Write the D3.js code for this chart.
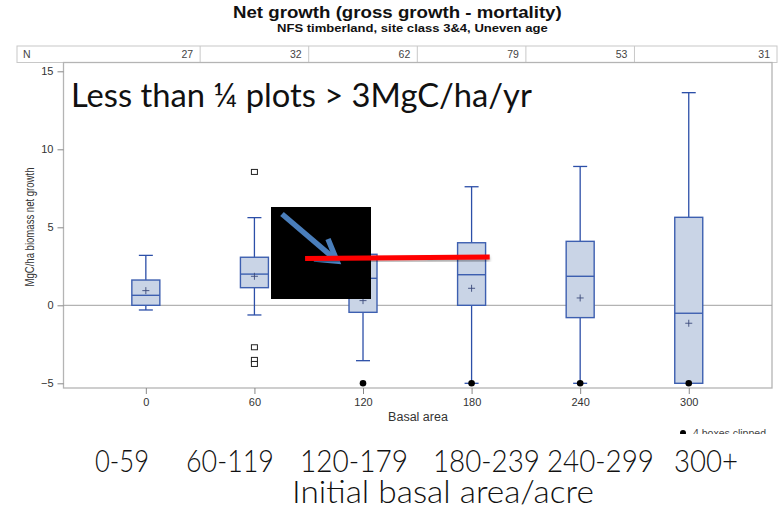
<!DOCTYPE html>
<html>
<head>
<meta charset="utf-8">
<script src="https://cdn.jsdelivr.net/npm/d3@7"></script>
<style>
  body { margin: 0; background: #fff; }
  svg { display: block; }
  .sas { font-family: "Liberation Sans", Arial, sans-serif; }
  .narrow { font-family: "Liberation Sans Narrow", "Liberation Sans", Arial, sans-serif; }
  .slide { font-family: Lato, "Open Sans", sans-serif; }
</style>
</head>
<body>
<div id="chart"></div>
<script>
(() => {

// basal area classes (x positions) and counts for the N table
const cats = [0, 60, 120, 180, 240, 300]
const nObs = [27, 32, 62, 79, 53, 31]

// box plot stats (MgC/ha)
const whiskLo = [-0.3, -0.62, -3.55, -5, -5, -5]
const q1 = [0, 1.13, -0.45, 0, -0.79, -5]
const med = [0.64, 2.0, 1.73, 1.96, 1.86, -0.51]
const q3 = [1.62, 3.08, 3.27, 4.01, 4.1, 5.64]
const whiskHi = [3.2, 5.62, 6.0, 7.6, 8.9, 13.63]
const means = [0.94, 1.86, 0.3, 1.09, 0.47, -1.15]

// outliers (open squares) and clipped markers (filled dots at -5)
const outCat = [60, 60, 60, 60]
const outVal = [8.55, -2.69, -3.5, -3.76]
const clipCat = [120, 180, 240, 300]

const yTicks = [-5, 0, 5, 10, 15]
const slideLabels = ["0-59", "60-119", "120-179", "180-239", "240-299", "300+"]
const slideLabelX = [95, 186, 300, 433, 547, 674]
const slideLabelW = [54, 88, 108, 107, 107, 64]

const W = 783, H = 511
const svg = d3.select("#chart").append("svg")
    .attr("width", W).attr("height", H)

const x = d3.scaleLinear().domain([-45.5, 346]).range([63.5, 772])
const y = d3.scaleLinear().domain([-5, 15]).range([383.3, 71.3])
const plotTop = 62.5, plotBot = 388, plotL = 63.5, plotR = 772

// squeeze a text horizontally so it spans w pixels
function fitText(sel, x0, y0, w) {
    sel.each(function(d, i) {
        const t = d3.select(this)
        const nat = this.getComputedTextLength()
        const xx = typeof x0 === "function" ? x0(d, i) : x0
        const ww = typeof w === "function" ? w(d, i) : w
        t.attr("transform", `translate(${xx},${y0}) scale(${ww / nat},1)`)
    })
}

// titles
svg.append("text").attr("class", "sas")
    .attr("font-size", 16.5).attr("font-weight", "bold").attr("fill", "#111")
    .text("Net growth (gross growth - mortality)")
    .call(fitText, 233, 18, 329)
svg.append("text").attr("class", "sas")
    .attr("font-size", 11.5).attr("font-weight", "bold").attr("fill", "#111")
    .text("NFS timberland, site class 3&4, Uneven age")
    .call(fitText, 277, 32, 271)

// N table
const tbl = svg.append("g").attr("class", "sas")
tbl.append("rect").attr("x", 17).attr("y", 46).attr("width", 760).attr("height", plotTop - 46)
    .attr("fill", "#fff").attr("stroke", "#c8c8c8")
const bounds = cats.map((c, i) => i < cats.length - 1 ? x((c + cats[i + 1]) / 2) : 777)
bounds.slice(0, -1).forEach(b => {
    tbl.append("line").attr("x1", b).attr("x2", b).attr("y1", 46).attr("y2", plotTop)
        .attr("stroke", "#c8c8c8")
})
tbl.append("text").attr("x", 23).attr("y", 58).attr("font-size", 10.5).attr("fill", "#444").text("N")
tbl.selectAll(".nval").data(nObs).enter().append("text")
    .attr("x", (d, i) => bounds[i] - 7).attr("y", 58)
    .attr("text-anchor", "end").attr("font-size", 10.5).attr("fill", "#444")
    .text(d => d)

// plot frame
svg.append("rect").attr("x", plotL).attr("y", plotTop)
    .attr("width", plotR - plotL).attr("height", plotBot - plotTop)
    .attr("fill", "none").attr("stroke", "#b4b4b4").attr("stroke-width", 1.3)

// zero reference line
svg.append("line").attr("x1", plotL).attr("x2", plotR)
    .attr("y1", y(0)).attr("y2", y(0)).attr("stroke", "#a0a0a0")

// y axis
const yAxis = svg.append("g").attr("class", "sas")
    .attr("transform", `translate(${plotL},0)`)
    .call(d3.axisLeft(y).tickValues(yTicks).tickSize(6).tickPadding(4))
yAxis.select(".domain").remove()
yAxis.selectAll(".tick line").attr("stroke", "#888")
yAxis.selectAll(".tick text").attr("font-size", 11).attr("fill", "#333")
    .attr("font-family", "Liberation Sans, Arial, sans-serif")

// x axis
const xAxis = svg.append("g").attr("class", "sas")
    .attr("transform", `translate(0,${plotBot})`)
    .call(d3.axisBottom(x).tickValues(cats).tickSize(6).tickPadding(4))
xAxis.select(".domain").remove()
xAxis.selectAll(".tick line").attr("stroke", "#888")
xAxis.selectAll(".tick text").attr("font-size", 11).attr("fill", "#333")
    .attr("font-family", "Liberation Sans, Arial, sans-serif")

svg.append("text").attr("class", "narrow")
    .attr("x", 418).attr("y", 421).attr("text-anchor", "middle")
    .attr("font-size", 12.5).attr("fill", "#333").text("Basal area")
svg.append("text").attr("class", "narrow")
    .attr("transform", "translate(34,227) rotate(-90)")
    .attr("text-anchor", "middle").attr("font-size", 12.5).attr("fill", "#333")
    .attr("textLength", 119).attr("lengthAdjust", "spacingAndGlyphs")
    .text("MgC/ha biomass net growth")

// boxes
const boxW = 28, capW = 14
const boxes = svg.append("g").selectAll(".box").data(cats).enter()
    .append("g").attr("class", "box")
boxes.append("line")
    .attr("x1", d => x(d)).attr("x2", d => x(d))
    .attr("y1", (d, i) => y(whiskLo[i])).attr("y2", (d, i) => y(whiskHi[i]))
    .attr("stroke", "#2c4fa8").attr("stroke-width", 1.3)
boxes.append("line")
    .attr("x1", d => x(d) - capW / 2).attr("x2", d => x(d) + capW / 2)
    .attr("y1", (d, i) => y(whiskHi[i])).attr("y2", (d, i) => y(whiskHi[i]))
    .attr("stroke", "#2c4fa8").attr("stroke-width", 1.3)
boxes.append("line")
    .attr("x1", d => x(d) - capW / 2).attr("x2", d => x(d) + capW / 2)
    .attr("y1", (d, i) => y(whiskLo[i])).attr("y2", (d, i) => y(whiskLo[i]))
    .attr("stroke", "#2c4fa8").attr("stroke-width", 1.3)
boxes.append("rect")
    .attr("x", d => x(d) - boxW / 2).attr("width", boxW)
    .attr("y", (d, i) => y(q3[i])).attr("height", (d, i) => y(q1[i]) - y(q3[i]))
    .attr("fill", "#c9d4e6").attr("stroke", "#3d5fb0").attr("stroke-width", 1.4)
boxes.append("line")
    .attr("x1", d => x(d) - boxW / 2).attr("x2", d => x(d) + boxW / 2)
    .attr("y1", (d, i) => y(med[i])).attr("y2", (d, i) => y(med[i]))
    .attr("stroke", "#3d5fb0").attr("stroke-width", 1.4)
boxes.append("path")
    .attr("d", (d, i) => {
        const cx = x(d), cy = y(means[i])
        return `M${cx - 3.5},${cy}H${cx + 3.5}M${cx},${cy - 3.5}V${cy + 3.5}`
    })
    .attr("stroke", "#3b4a7a").attr("stroke-width", 0.9)

// outliers
svg.append("g").selectAll("rect").data(outVal).enter().append("rect")
    .attr("x", (d, i) => x(outCat[i]) - 3).attr("y", d => y(d) - 2.5)
    .attr("width", 6).attr("height", 5)
    .attr("fill", "#fff").attr("stroke", "#222").attr("stroke-width", 1)
svg.append("g").selectAll("circle").data(clipCat).enter().append("circle")
    .attr("cx", d => x(d)).attr("cy", y(-5)).attr("r", 3.3).attr("fill", "#000")

// clipped legend
svg.append("circle").attr("cx", 683).attr("cy", 433).attr("r", 3).attr("fill", "#000")
svg.append("text").attr("class", "sas").attr("x", 693).attr("y", 437)
    .attr("font-size", 10.5).attr("fill", "#444").text("4 boxes clipped")

// slide overlay: white lower band, black patch, arrow, 3 MgC line
svg.append("rect").attr("x", 0).attr("y", 434).attr("width", W).attr("height", H - 434).attr("fill", "#fff")

svg.append("rect").attr("x", 271).attr("y", 207).attr("width", 100).attr("height", 92).attr("fill", "#000")
svg.append("line").attr("x1", 282).attr("y1", 214).attr("x2", 336).attr("y2", 260)
    .attr("stroke", "#4a7ebb").attr("stroke-width", 5.5)
svg.append("path").attr("d", "M328,239 L337,261 L314,259")
    .attr("fill", "none").attr("stroke", "#4a7ebb").attr("stroke-width", 5.5)
    .attr("stroke-linejoin", "miter")

const defs = svg.append("defs")
const f = defs.append("filter").attr("id", "shadow").attr("x", "-5%").attr("y", "-200%")
    .attr("width", "110%").attr("height", "500%")
f.append("feDropShadow").attr("dx", 0).attr("dy", 2).attr("stdDeviation", 1.5)
    .attr("flood-color", "#000").attr("flood-opacity", 0.35)
svg.append("line")
    .attr("x1", x(88)).attr("y1", y(3)).attr("x2", x(190)).attr("y2", y(3.09))
    .attr("stroke", "#ff0000").attr("stroke-width", 5).attr("filter", "url(#shadow)")

// slide text
svg.append("text").attr("class", "slide")
    .attr("font-size", 32).attr("fill", "#111")
    .text("Less than \u00BC plots > 3MgC/ha/yr")
    .call(fitText, 71, 107, 461)
svg.append("g").selectAll("text").data(slideLabels).enter().append("text")
    .attr("class", "slide")
    .attr("font-size", 31).attr("font-weight", 300).attr("fill", "#111")
    .text(d => d)
    .call(fitText, (d, i) => slideLabelX[i], 472, (d, i) => slideLabelW[i])
svg.append("text").attr("class", "slide")
    .attr("font-size", 31).attr("font-weight", 300).attr("fill", "#111")
    .text("Initial basal area/acre")
    .call(fitText, 292, 503, 302)

})();
</script>
</body>
</html>
